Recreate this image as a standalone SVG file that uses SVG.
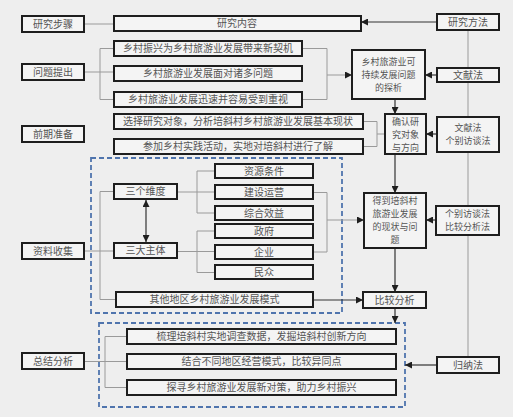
<svg xmlns="http://www.w3.org/2000/svg" width="513" height="417" viewBox="0 0 513 417">
<defs>
<style>
.b{fill:#f4f4f4;stroke:#1e1e1e;stroke-width:2}
.t{font-family:"Noto Sans CJK SC","Noto Sans",sans-serif;font-size:10px;fill:#555;text-anchor:middle}
.m{font-size:9px}
.g{fill:none;stroke:#9a9a9a;stroke-width:1}
.k{fill:none;stroke:#333;stroke-width:1.2}
.d{fill:none;stroke:#4f74ad;stroke-width:1.8;stroke-dasharray:5,3}
</style>
<marker id="a" viewBox="0 0 8 8" refX="8" refY="4" markerWidth="7" markerHeight="7" markerUnits="userSpaceOnUse" orient="auto-start-reverse">
<path d="M0,0L8,4L0,8z" fill="#1e1e1e"/>
</marker>
</defs>
<rect width="513" height="417" fill="#eeeeee"/>
<rect class="d" x="91" y="158" width="251" height="155"/>
<rect class="d" x="99" y="323" width="306" height="84"/>
<g id="connectors">
<path class="g" d="M468 30V357"/>
<path class="g" d="M84 24H114"/>
<path class="g" d="M84 72H114M100 48.5V99.5M100 48.5H114M100 99.5H114"/>
<path class="g" d="M302 48.5H327M302 99.5H327M327 48.5V99.5"/>
<path class="g" d="M327 75H352" marker-end="url(#a)"/>
<path class="k" d="M437 22H361" marker-end="url(#a)"/>
<path class="k" d="M437 75H425" marker-end="url(#a)"/>
<path class="k" d="M395 99V114" marker-end="url(#a)"/>
<path class="g" d="M363 121.5H377M363 146.5H377M377 121.5V146.5M377 134H385"/>
<path class="k" d="M437 134H426" marker-end="url(#a)"/>
<path class="k" d="M395 154V193" marker-end="url(#a)"/>
<path class="g" d="M313 192.5H327M313 252H327M327 192.5V252"/>
<path class="g" d="M327 220H364" marker-end="url(#a)"/>
<path class="k" d="M436 220H426" marker-end="url(#a)"/>
<path class="k" d="M395 248V292" marker-end="url(#a)"/>
<path class="k" d="M313 300H363" marker-end="url(#a)"/>
<path class="k" d="M395 308V323" marker-end="url(#a)"/>
<path class="k" d="M437 365H405" marker-end="url(#a)"/>
<path class="g" d="M83 251H114M100 191.5V299.5M100 191.5H114M100 299.5H116"/>
<path class="g" d="M177 192H215M197 171V213M197 171H215M197 213H215"/>
<path class="g" d="M177 251.5H215M197 231V272.5M197 231H215M197 272.5H215"/>
<path class="k" d="M146 200V242" marker-start="url(#a)" marker-end="url(#a)"/>
<path class="g" d="M83 361.5H127M105 336.5V387.5M105 336.5H127M105 387.5H127"/>
</g>
<g id="s1"><rect class="b" x="22" y="16" width="62" height="16"/><text class="t" x="53" y="27.5">研究步骤</text></g>
<g id="s2"><rect class="b" x="22" y="64" width="62" height="16"/><text class="t" x="53" y="75.5">问题提出</text></g>
<g id="s3"><rect class="b" x="22" y="126" width="62" height="16"/><text class="t" x="53" y="137.5">前期准备</text></g>
<g id="s4"><rect class="b" x="22" y="243" width="62" height="16"/><text class="t" x="53" y="254.5">资料收集</text></g>
<g id="s5"><rect class="b" x="22" y="353" width="62" height="16"/><text class="t" x="53" y="364.5">总结分析</text></g>
<g id="c0"><rect class="b" x="114" y="16" width="247" height="15"/><text class="t" x="237" y="27">研究内容</text></g>
<g id="p1"><rect class="b" x="114" y="41" width="188" height="15"/><text class="t" x="208" y="52">乡村振兴为乡村旅游业发展带来新契机</text></g>
<g id="p2"><rect class="b" x="114" y="66" width="188" height="15"/><text class="t" x="208" y="77">乡村旅游业发展面对诸多问题</text></g>
<g id="p3"><rect class="b" x="114" y="92" width="188" height="15"/><text class="t" x="208" y="103">乡村旅游业发展迅速并容易受到重视</text></g>
<g id="q1"><rect class="b" x="114" y="114" width="249" height="15"/><text class="t" x="238" y="125">选择研究对象，分析培斜村乡村旅游业发展基本现状</text></g>
<g id="q2"><rect class="b" x="114" y="139" width="249" height="15"/><text class="t" x="238" y="150">参加乡村实践活动，实地对培斜村进行了解</text></g>
<g id="r0"><rect class="b" x="114" y="184" width="63" height="15"/><text class="t" x="145.5" y="195">三个维度</text></g>
<g id="r1"><rect class="b" x="114" y="243" width="63" height="15"/><text class="t" x="145.5" y="254">三大主体</text></g>
<g id="d1"><rect class="b" x="215" y="164" width="98" height="14"/><text class="t" x="264" y="174.5">资源条件</text></g>
<g id="d2"><rect class="b" x="215" y="185" width="98" height="14"/><text class="t" x="264" y="195.5">建设运营</text></g>
<g id="d3"><rect class="b" x="215" y="206" width="98" height="14"/><text class="t" x="264" y="216.5">综合效益</text></g>
<g id="d4"><rect class="b" x="215" y="224" width="98" height="14"/><text class="t" x="264" y="234.5">政府</text></g>
<g id="d5"><rect class="b" x="215" y="245" width="98" height="14"/><text class="t" x="264" y="255.5">企业</text></g>
<g id="d6"><rect class="b" x="215" y="265" width="98" height="14"/><text class="t" x="264" y="275.5">民众</text></g>
<g id="r2"><rect class="b" x="116" y="292" width="197" height="15"/><text class="t" x="214.5" y="303">其他地区乡村旅游业发展模式</text></g>
<g id="e1"><rect class="b" x="127" y="329" width="269" height="15"/><text class="t" x="261.5" y="340">梳理培斜村实地调查数据，发掘培斜村创新方向</text></g>
<g id="e2"><rect class="b" x="127" y="354" width="269" height="15"/><text class="t" x="261.5" y="365">结合不同地区经营模式，比较异同点</text></g>
<g id="e3"><rect class="b" x="127" y="380" width="269" height="15"/><text class="t" x="261.5" y="391">探寻乡村旅游业发展新对策，助力乡村振兴</text></g>
<g id="m1"><rect class="b" x="352" y="50" width="73" height="49"/><text class="t m" x="388.5" y="65">乡村旅游业可</text><text class="t m" x="388.5" y="78">持续发展问题</text><text class="t m" x="388.5" y="91">的探析</text></g>
<g id="m2"><rect class="b" x="385" y="114" width="41" height="40"/><text class="t m" x="405.5" y="124.5">确认研</text><text class="t m" x="405.5" y="137.5">究对象</text><text class="t m" x="405.5" y="150.5">与方向</text></g>
<g id="m3"><rect class="b" x="364" y="193" width="62" height="55"/><text class="t m" x="395" y="204">得到培斜村</text><text class="t m" x="395" y="217">旅游业发展</text><text class="t m" x="395" y="230">的现状与问</text><text class="t m" x="395" y="243">题</text></g>
<g id="m4"><rect class="b" x="363" y="292" width="63" height="16"/><text class="t" x="394.5" y="303.5">比较分析</text></g>
<g id="k0"><rect class="b" x="437" y="14" width="62" height="16"/><text class="t" x="468" y="25.5">研究方法</text></g>
<g id="k1"><rect class="b" x="437" y="68" width="62" height="14"/><text class="t" x="468" y="78.5">文献法</text></g>
<g id="k2"><rect class="b" x="437" y="117" width="62" height="35"/><text class="t m" x="468" y="131">文献法</text><text class="t m" x="468" y="144">个别访谈法</text></g>
<g id="k3"><rect class="b" x="436" y="206" width="63" height="29"/><text class="t m" x="467.5" y="217">个别访谈法</text><text class="t m" x="467.5" y="230">比较分析法</text></g>
<g id="k4"><rect class="b" x="437" y="357" width="62" height="16"/><text class="t" x="468" y="368.5">归纳法</text></g>
</svg>
